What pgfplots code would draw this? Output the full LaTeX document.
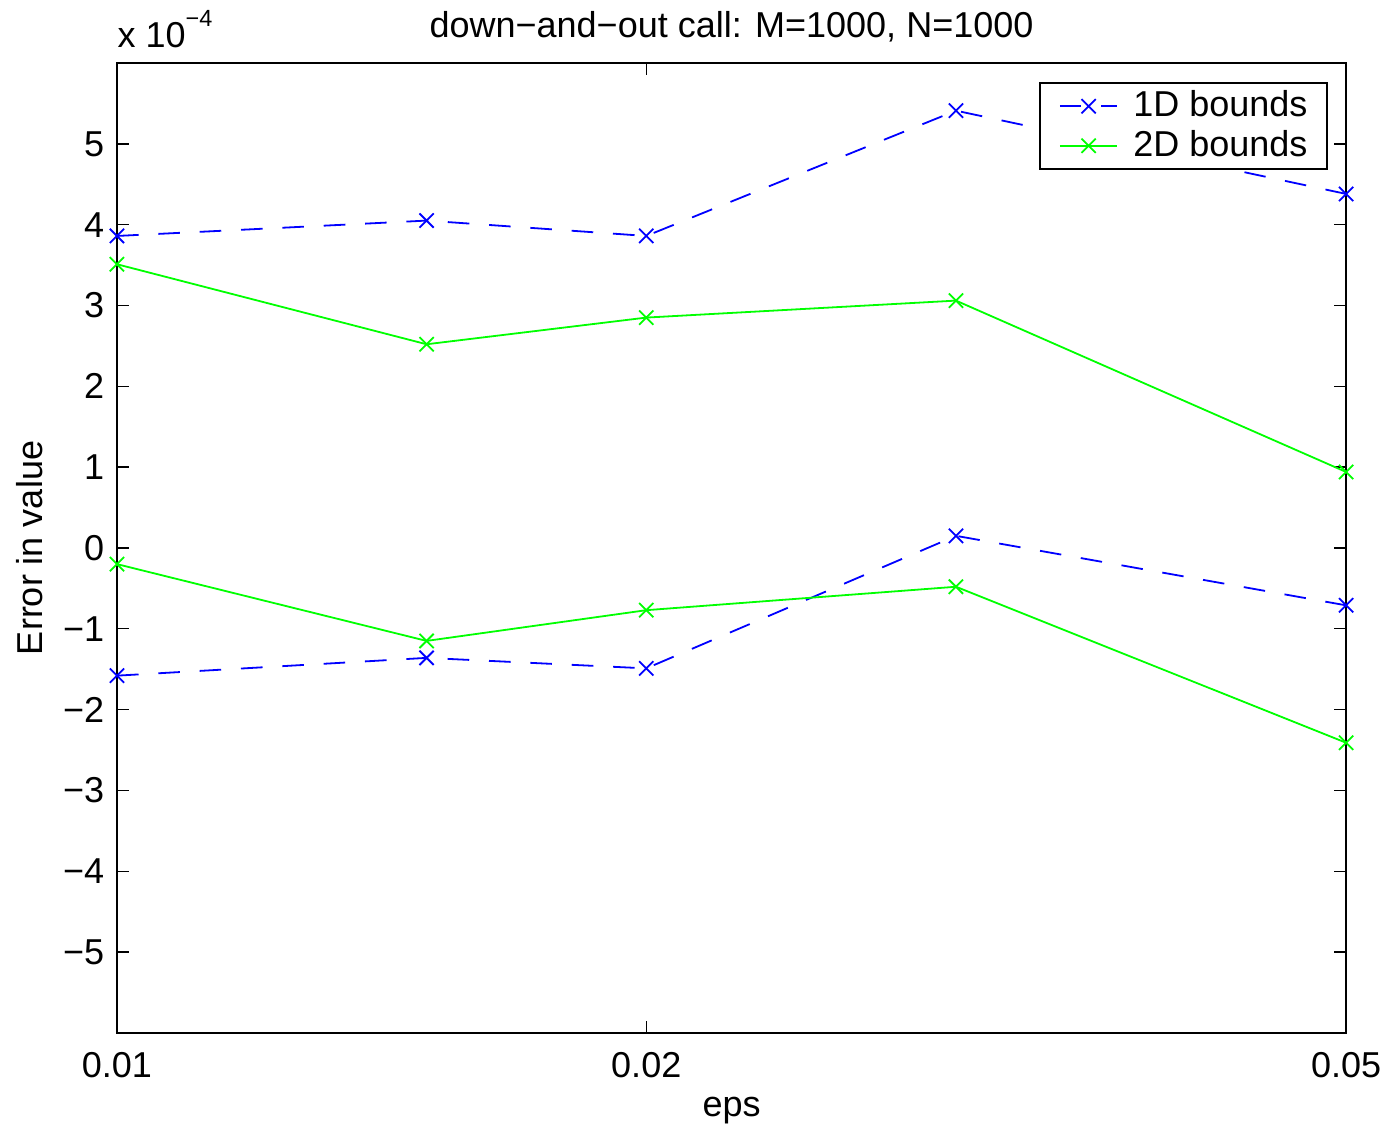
\documentclass[border=0pt]{standalone}
\usepackage{fontspec}
\setmainfont{Liberation Sans}
\usepackage{pgfplots}
\pgfplotsset{compat=1.18}
\definecolor{mblue}{RGB}{0,0,255}
\definecolor{mgreen}{RGB}{0,255,0}
\begin{document}
\begin{tikzpicture}
\path[use as bounding box] (-32.5pt,-26.1pt) rectangle (353.3pt,286.9pt);
\begin{axis}[
  at={(0pt,0pt)}, anchor=south west,
  scale only axis, width=341.4pt, height=269.4pt,
  xmode=log, xmin=0.01, xmax=0.05,
  ymin=-6e-4, ymax=6e-4,
  xtick={0.01,0.02,0.05}, xticklabels={0.01,0.02,0.05},
  xminorticks=false, yminorticks=false,
  ytick={-5e-4,-4e-4,-3e-4,-2e-4,-1e-4,0,1e-4,2e-4,3e-4,4e-4,5e-4},
  yticklabels={−5,−4,−3,−2,−1,0,1,2,3,4,5},
  scaled y ticks=false,
  tick align=inside, major tick length=3.4pt,
  axis line style={line width=0.6pt},
  every tick/.style={black, line width=0.4pt},
  xticklabel style={yshift=-2pt},
  xlabel={eps},
  xlabel style={at={(axis description cs:0.5,0)}, anchor=base, yshift=-23.3pt},
  clip=false,
  legend cell align=left,
  legend style={at={(rel axis cs:1,1)}, anchor=north east, xshift=-5pt, yshift=-5.3pt,
    draw=black, line width=0.5pt, inner xsep=2.75pt, inner ysep=1pt,
    nodes={inner xsep=2.75pt, inner ysep=1.1pt}},
  legend image code/.code={\path (-2.6pt,0pt) (17.4pt,0pt); \draw[mark repeat=2,mark phase=2,#1] plot coordinates {(0pt,0pt)(8pt,0pt)(16pt,0pt)};},
  every axis plot/.append style={line width=0.5pt, mark=x, mark size=2.8pt, mark options={solid}},
]
\addplot[mblue, dash pattern=on 6pt off 5.5pt] coordinates {(0.01,3.86e-4)(0.015,4.05e-4)(0.02,3.86e-4)(0.03,5.41e-4)(0.05,4.38e-4)};
\addlegendentry{1D bounds}
\addplot[mblue, dash pattern=on 6pt off 5.5pt, forget plot] coordinates {(0.01,-1.58e-4)(0.015,-1.36e-4)(0.02,-1.49e-4)(0.03,0.15e-4)(0.05,-0.71e-4)};
\addplot[mgreen] coordinates {(0.01,3.51e-4)(0.015,2.52e-4)(0.02,2.85e-4)(0.03,3.06e-4)(0.05,0.94e-4)};
\addlegendentry{2D bounds}
\addplot[mgreen, forget plot] coordinates {(0.01,-0.20e-4)(0.015,-1.15e-4)(0.02,-0.77e-4)(0.03,-0.48e-4)(0.05,-2.41e-4)};
\node[anchor=base] at ([yshift=7.2pt]axis description cs:0.5,1) {down−and−out call: M=1000, N=1000};
\node[rotate=90, anchor=base] at ([xshift=-20.6pt]axis description cs:0,0.5) {Error in value};
\node[anchor=base west, inner sep=0pt] at ([yshift=4.2pt]axis description cs:0,1) {x 10\raisebox{6pt}{\fontsize{6.5}{7}\selectfont −4}};
\end{axis}
\end{tikzpicture}
\end{document}
